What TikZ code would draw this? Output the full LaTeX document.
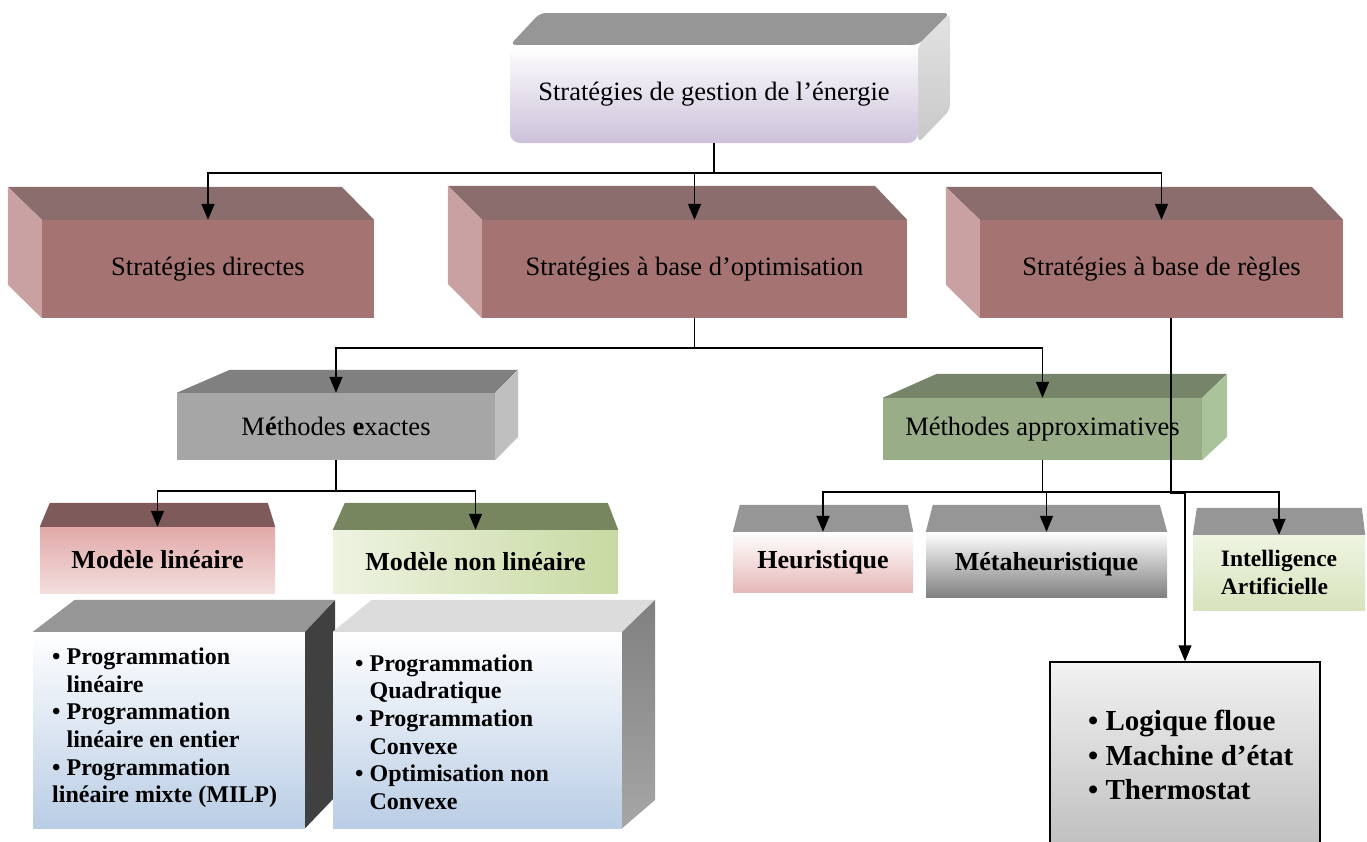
\documentclass[tikz,border=0pt]{standalone}
\usepackage{fontspec}
\setmainfont{Liberation Serif}
\usepackage{tikz}
\usetikzlibrary{arrows.meta}
\definecolor{topgray}{HTML}{969696}
\definecolor{sidelt}{HTML}{E3E3E3}
\definecolor{sidedk}{HTML}{C8C8C8}
\definecolor{lavbot}{HTML}{CCC1DA}
\definecolor{mar}{HTML}{A57371}
\definecolor{martop}{HTML}{8A6D6C}
\definecolor{marside}{HTML}{C9A1A2}
\definecolor{grfront}{HTML}{A6A6A6}
\definecolor{grtop}{HTML}{808080}
\definecolor{grside}{HTML}{BFBFBF}
\definecolor{sgfront}{HTML}{98AD88}
\definecolor{sgtop}{HTML}{76846A}
\definecolor{sgside}{HTML}{AAC39B}
\definecolor{mltop}{HTML}{7F5A5A}
\definecolor{mlpink}{HTML}{E2A9A8}
\definecolor{mllight}{HTML}{F3DEDE}
\definecolor{nltop}{HTML}{77865E}
\definecolor{nllight}{HTML}{EEF3E2}
\definecolor{nlgreen}{HTML}{C8DAA2}
\definecolor{heupink}{HTML}{E6B9B8}
\definecolor{iagreen}{HTML}{D7E4BD}
\definecolor{ialight}{HTML}{EEF4E2}
\definecolor{blfront}{HTML}{B9CDE5}
\definecolor{dkside}{HTML}{404040}
\definecolor{lttop}{HTML}{DCDCDC}
\definecolor{logtop}{HTML}{F2F2F2}
\definecolor{logbot}{HTML}{BFBFBF}
\tikzstyle{every node}=[font=\fontsize{26.5}{31}\selectfont, inner sep=0pt]
\tikzstyle{front}=[rectangle, anchor=center]
\tikzstyle{bold}=[font=\bfseries\fontsize{26}{30}\selectfont]
\tikzstyle{list}=[anchor=west, align=left, font=\bfseries\fontsize{24}{27.6}\selectfont]
\tikzstyle{wire}=[line width=1.6pt]
\tikzstyle{link}=[wire, -{Triangle[length=16pt,width=13pt]}]
\newcommand{\puce}{\textbullet\ }
\newcommand{\retrait}{\phantom{\textbullet\ }}

\begin{document}
\begin{tikzpicture}[x=1pt,y=-1pt]
	\useasboundingbox (0,0) rectangle (1367,841);
	% top level
	\fill[topgray, rounded corners=6pt] (510,45) -- (540,13) -- (950,13) -- (918,45) -- cycle; % top face
	\shade[top color=sidelt, bottom color=sidedk, rounded corners=6pt] (918,45) -- (950,13) -- (950,110) -- (918,143) -- cycle; % right face
	\node[front, rounded corners=10pt, top color=white, bottom color=lavbot, minimum width=408pt, minimum height=98pt] (gest) at (714,94) {Stratégies de gestion de l’énergie};
	% second level
	\node[front, fill=mar, minimum width=332pt, minimum height=98pt] (dir) at (208,269) {Stratégies directes};
	\node[front, fill=mar, minimum width=425pt, minimum height=98pt] (opt) at (694.5,269) {Stratégies à base d’optimisation};
	\node[front, fill=mar, minimum width=363pt, minimum height=98pt] (reg) at (1161.5,269) {Stratégies à base de règles};
	\fill[martop] (dir.north west) -- ++(-34,-33) -- ++(334,0) -- (dir.north east) -- cycle;
	\fill[marside] (dir.north west) -- ++(-34,-33) -- ++(0,98) -- (dir.south west) -- cycle;
	\fill[martop] (opt.north west) -- ++(-34,-34) -- ++(427,0) -- (opt.north east) -- cycle;
	\fill[marside] (opt.north west) -- ++(-34,-34) -- ++(0,98) -- (opt.south west) -- cycle;
	\fill[martop] (reg.north west) -- ++(-34,-33) -- ++(366,0) -- (reg.north east) -- cycle;
	\fill[marside] (reg.north west) -- ++(-34,-33) -- ++(0,98) -- (reg.south west) -- cycle;
	% methods
	\node[front, fill=grfront, minimum width=318pt, minimum height=67pt] (mex) at (336,426.5) {M\textbf{é}thodes \textbf{e}xactes};
	\fill[grtop] (mex.north west) -- ++(53,-23) -- ++(288,0) -- (mex.north east) -- cycle;
	\fill[grside] (mex.north east) -- ++(23,-23) -- ++(0,67) -- (mex.south east) -- cycle;
	\node[front, fill=sgfront, minimum width=319pt, minimum height=62pt] (map) at (1042.5,429) {Méthodes approximatives};
	\fill[sgtop] (map.north west) -- ++(54,-24) -- ++(290,0) -- (map.north east) -- cycle;
	\fill[sgside] (map.north east) -- ++(25,-24) -- ++(0,63) -- (map.south east) -- cycle;
	% models
	\node[front, bold, top color=mlpink, bottom color=mllight, minimum width=235pt, minimum height=66pt] (ml) at (157.5,560) {Modèle linéaire};
	\fill[mltop] (ml.north west) -- ++(10,-24) -- ++(218,0) -- (ml.north east) -- cycle;
	\node[front, bold, left color=nllight, right color=nlgreen, minimum width=285pt, minimum height=63pt] (nl) at (475.5,561.5) {Modèle non linéaire};
	\fill[nltop] (nl.north west) -- ++(12,-27) -- ++(263,0) -- (nl.north east) -- cycle;
	\node[front, bold, top color=white, bottom color=heupink, minimum width=180pt, minimum height=60pt] (heu) at (823,562) {Heuristique};
	\fill[topgray] (heu.north west) -- ++(7,-27) -- ++(168,0) -- (heu.north east) -- cycle;
	\node[front, bold, top color=white, bottom color=grtop, minimum width=241pt, minimum height=65pt] (met) at (1046.5,564.5) {Métaheuristique};
	\fill[topgray] (met.north west) -- ++(7,-27) -- ++(227,0) -- (met.north east) -- cycle;
	\node[front, align=left, font=\bfseries\fontsize{23.5}{28}\selectfont, top color=ialight, bottom color=iagreen, minimum width=172pt, minimum height=75pt] (ia) at (1279,572.5) {Intelligence\\Artificielle};
	\fill[topgray] (ia.north west) -- ++(4,-27) -- ++(165,0) -- (ia.north east) -- cycle;
	% lists
	\node[front, top color=white, bottom color=blfront, minimum width=272pt, minimum height=196pt] (lin) at (169,730) {};
	\fill[topgray] (lin.north west) -- ++(42,-32) -- ++(260,0) -- (lin.north east) -- cycle;
	\fill[dkside] (lin.north east) -- ++(30,-32) -- ++(0,197) -- (lin.south east) -- cycle;
	\node[list] (lintxt) at (52,728) {\puce Programmation\\ \retrait linéaire\\ \puce Programmation\\ \retrait linéaire en entier\\ \puce Programmation\\ linéaire mixte (MILP)};
	\node[front, top color=white, bottom color=blfront, minimum width=289pt, minimum height=196pt] (nonl) at (477.5,730) {};
	\fill[lttop] (nonl.north west) -- ++(39,-32) -- ++(283,0) -- (nonl.north east) -- cycle;
	\shade[top color=grtop, bottom color=grfront] (nonl.north east) -- ++(33,-32) -- ++(0,200) -- (nonl.south east) -- cycle;
	\node[list] (nontxt) at (355,732) {\puce Programmation\\ \retrait Quadratique\\ \puce Programmation\\ \retrait Convexe\\ \puce Optimisation non\\ \retrait Convexe};
	\node[front, draw=black, line width=1.5pt, top color=logtop, bottom color=logbot, minimum width=270pt, minimum height=188pt] (logq) at (1185,756) {};
	\node[list, font=\bfseries\fontsize{29}{34.5}\selectfont] (logtxt) at (1088,755) {\puce Logique floue\\ \puce Machine d’état\\ \puce Thermostat};
	% connectors
	\draw[wire] (gest.south) -- ++(0,30) coordinate (bus1);
	\draw[link] (bus1) -| (dir.north);
	\draw[link] (bus1) -| (opt.north);
	\draw[link] (bus1) -| (reg.north);
	\draw[wire] (opt.south) -- ++(0,30) coordinate (bus2);
	\draw[link] (bus2) -| (mex.north);
	\draw[link] (bus2) -| (map.north);
	\draw[wire] (mex.south) -- ++(0,31) coordinate (bus3);
	\draw[link] (bus3) -| (ml.north);
	\draw[link] (bus3) -| (nl.north);
	\draw[wire] (map.south) -- ++(0,32) coordinate (bus4);
	\draw[link] (bus4) -| (heu.north);
	\draw[link] (bus4) -| (met.north);
	\draw[link] (bus4) -| (ia.north);
	\coordinate (regout) at (1171,318);
	\draw[link, line width=1.1pt] (regout) -- ++(0,175) -| (logq.north); % rule based
\end{tikzpicture}
\end{document}
